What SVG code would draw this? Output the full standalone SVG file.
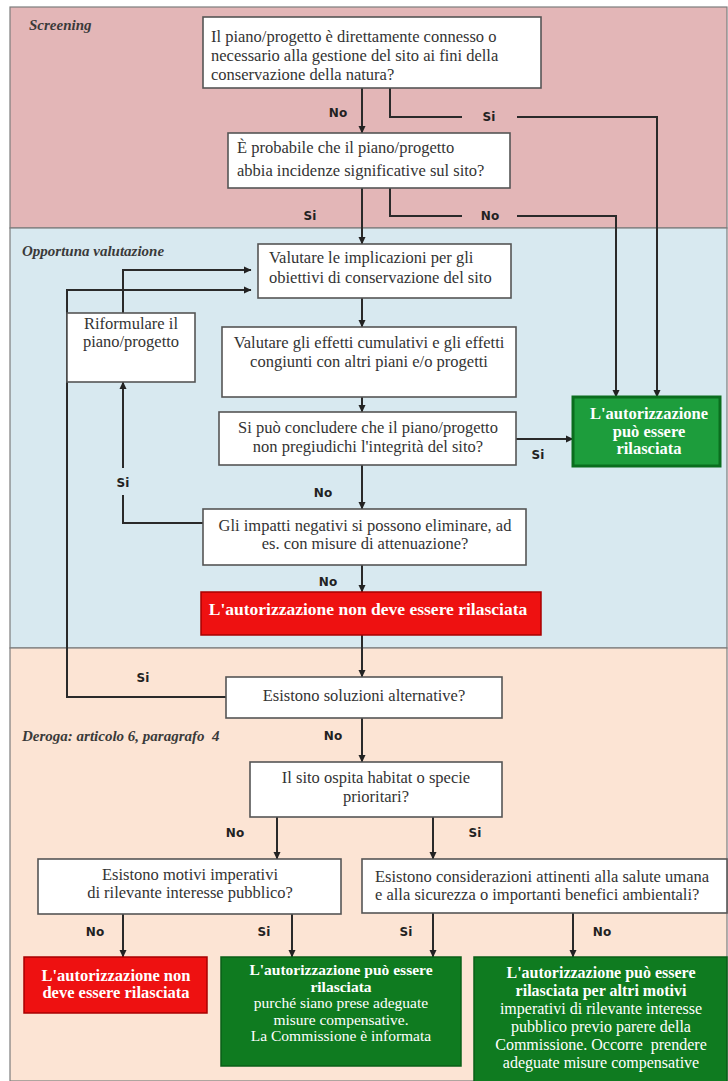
<svg xmlns="http://www.w3.org/2000/svg" width="728" height="1081" viewBox="0 0 728 1081">
<defs>
<marker id="ah" markerWidth="8" markerHeight="8" refX="7" refY="4" orient="auto" markerUnits="userSpaceOnUse">
<path d="M0,0.5 L7.5,4 L0,7.5 z" fill="#222"/>
</marker>
<style>
.band{stroke:#7c7c7c;stroke-width:1.2}
.box{fill:#fff;stroke:#555;stroke-width:1.6}
.t{font-family:"Liberation Serif","Times New Roman",serif;font-size:16.5px;fill:#333}
.c{text-anchor:middle}
.w{font-family:"Liberation Serif","Times New Roman",serif;font-size:16px;fill:#fff;font-weight:bold;text-anchor:middle;white-space:pre}
.wn{font-weight:normal}
.lbl{font-family:"DejaVu Sans",sans-serif;font-size:12px;font-weight:bold;fill:#222;text-anchor:middle}
.hd{font-family:"Liberation Serif","Times New Roman",serif;font-size:15px;font-style:italic;font-weight:bold;fill:#3a3a3a;white-space:pre}
.cn{fill:none;stroke:#2a2a2a;stroke-width:2}
.green1{fill:#1d9d3c;stroke:#0a6e1e;stroke-width:3}
.green2{fill:#0f7b20;stroke:#0a5f17;stroke-width:1.5}
.red{fill:#ee1111;stroke:#a80000;stroke-width:1.5}
</style>
</defs>
<g id="bands">
<rect class="band" x="10" y="7" width="717" height="221" fill="#e3b6b7"/>
<rect class="band" x="10" y="228" width="717" height="420" fill="#d8e9f0"/>
<rect class="band" x="10" y="648" width="717" height="433" fill="#fce4d4"/>
<text class="hd" x="29" y="30">Screening</text>
<text class="hd" x="22" y="256">Opportuna valutazione</text>
<text class="hd" x="22" y="741">Deroga: articolo 6, paragrafo  4</text>
</g>
<g id="connectors">
<path class="cn" d="M362,88 V133" marker-end="url(#ah)"/>
<path class="cn" d="M390,88 V117 H462"/>
<path class="cn" d="M517,117 H657 V397" marker-end="url(#ah)"/>
<path class="cn" d="M390,188 V216 H462"/>
<path class="cn" d="M517,216 H616 V397" marker-end="url(#ah)"/>
<path class="cn" d="M362,188 V244" marker-end="url(#ah)"/>
<path class="cn" d="M123,313 V270 H251" marker-end="url(#ah)"/>
<path class="cn" d="M226,697 H67 V290 H251" marker-end="url(#ah)"/>
<path class="cn" d="M362,298 V327" marker-end="url(#ah)"/>
<path class="cn" d="M362,397 V412" marker-end="url(#ah)"/>
<path class="cn" d="M516,439 H573" marker-end="url(#ah)"/>
<path class="cn" d="M362,465 V509" marker-end="url(#ah)"/>
<path class="cn" d="M203,523 H123 V495"/>
<path class="cn" d="M123,468 V382" marker-end="url(#ah)"/>
<path class="cn" d="M362,565 V592" marker-end="url(#ah)"/>
<path class="cn" d="M362,635 V677" marker-end="url(#ah)"/>
<path class="cn" d="M362,718 V762" marker-end="url(#ah)"/>
<path class="cn" d="M277,817 V859" marker-end="url(#ah)"/>
<path class="cn" d="M433,817 V859" marker-end="url(#ah)"/>
<path class="cn" d="M123,914 V957" marker-end="url(#ah)"/>
<path class="cn" d="M292,914 V957" marker-end="url(#ah)"/>
<path class="cn" d="M433,913 V957" marker-end="url(#ah)"/>
<path class="cn" d="M573,913 V957" marker-end="url(#ah)"/>
<text class="lbl" x="338" y="117">No</text>
<text class="lbl" x="489" y="121">Si</text>
<text class="lbl" x="490" y="220">No</text>
<text class="lbl" x="310" y="220">Si</text>
<text class="lbl" x="538" y="459">Si</text>
<text class="lbl" x="123" y="487">Si</text>
<text class="lbl" x="323" y="497">No</text>
<text class="lbl" x="328" y="586">No</text>
<text class="lbl" x="143" y="682">Si</text>
<text class="lbl" x="333" y="740">No</text>
<text class="lbl" x="235" y="837">No</text>
<text class="lbl" x="475" y="837">Si</text>
<text class="lbl" x="95" y="936">No</text>
<text class="lbl" x="264" y="936">Si</text>
<text class="lbl" x="406" y="936">Si</text>
<text class="lbl" x="602" y="936">No</text>
</g>
<g id="q1">
<rect class="box" x="203" y="17" width="338" height="71"/>
<text class="t" x="211" y="42">Il piano/progetto è direttamente connesso o</text>
<text class="t" x="211" y="61">necessario alla gestione del sito ai fini della</text>
<text class="t" x="211" y="80">conservazione della natura?</text>
</g>
<g id="q2">
<rect class="box" x="228" y="133" width="282" height="55"/>
<text class="t" x="237" y="153">È probabile che il piano/progetto</text>
<text class="t" x="237" y="176">abbia incidenze significative sul sito?</text>
</g>
<g id="q3">
<rect class="box" x="258" y="244" width="253" height="54"/>
<text class="t" x="269" y="263">Valutare le implicazioni per gli</text>
<text class="t" x="269" y="283">obiettivi di conservazione del sito</text>
</g>
<g id="riformulare">
<rect class="box" x="67" y="313" width="128" height="69"/>
<text class="t c" x="131" y="329">Riformulare il</text>
<text class="t c" x="131" y="347">piano/progetto</text>
</g>
<g id="q4">
<rect class="box" x="222" y="327" width="294" height="70"/>
<text class="t c" x="369" y="348">Valutare gli effetti cumulativi e gli effetti</text>
<text class="t c" x="369" y="367">congiunti con altri piani e/o progetti</text>
</g>
<g id="q5">
<rect class="box" x="219" y="412" width="297" height="53"/>
<text class="t c" x="368" y="433">Si può concludere che il piano/progetto</text>
<text class="t c" x="368" y="452">non pregiudichi l'integrità del sito?</text>
</g>
<g id="ok1">
<rect class="green1" x="573" y="397" width="147" height="69"/>
<text class="w" x="649" y="419" style="font-size:16.5px">L'autorizzazione</text>
<text class="w" x="649" y="437" style="font-size:16.5px">può essere</text>
<text class="w" x="649" y="454" style="font-size:16.5px">rilasciata</text>
</g>
<g id="q6">
<rect class="box" x="203" y="509" width="323" height="56"/>
<text class="t c" x="365" y="531">Gli impatti negativi si possono eliminare, ad</text>
<text class="t c" x="365" y="549">es. con misure di attenuazione?</text>
</g>
<g id="no1">
<rect class="red" x="201" y="592" width="340" height="43"/>
<text class="w" x="368" y="615" style="font-size:17.5px">L'autorizzazione non deve essere rilasciata</text>
</g>
<g id="q7">
<rect class="box" x="226" y="677" width="276" height="41"/>
<text class="t c" x="364" y="701">Esistono soluzioni alternative?</text>
</g>
<g id="q8">
<rect class="box" x="250" y="762" width="252" height="55"/>
<text class="t c" x="376" y="783">Il sito ospita habitat o specie</text>
<text class="t c" x="376" y="802">prioritari?</text>
</g>
<g id="q9">
<rect class="box" x="38" y="859" width="303" height="55"/>
<text class="t c" x="190" y="880">Esistono motivi imperativi</text>
<text class="t c" x="190" y="898">di rilevante interesse pubblico?</text>
</g>
<g id="q10">
<rect class="box" x="362" y="859" width="365" height="54"/>
<text class="t" x="375" y="882">Esistono considerazioni attinenti alla salute umana</text>
<text class="t" x="375" y="900">e alla sicurezza o importanti benefici ambientali?</text>
</g>
<g id="no2">
<rect class="red" x="24" y="957" width="183" height="56"/>
<text class="w" x="116" y="981" style="font-size:16.5px">L'autorizzazione non</text>
<text class="w" x="116" y="998" style="font-size:16.5px">deve essere rilasciata</text>
</g>
<g id="ok2">
<rect class="green2" x="221" y="957" width="240" height="109"/>
<text class="w" x="341" y="975" style="font-size:15.5px">L'autorizzazione può essere</text>
<text class="w" x="341" y="991.5" style="font-size:15.5px">rilasciata</text>
<text class="w wn" x="341" y="1008" style="font-size:15.5px">purché siano prese adeguate</text>
<text class="w wn" x="341" y="1024.5" style="font-size:15.5px">misure compensative.</text>
<text class="w wn" x="341" y="1041" style="font-size:15.5px">La Commissione è informata</text>
</g>
<g id="ok3">
<rect class="green2" x="474" y="957" width="253" height="126"/>
<text class="w" x="601" y="978">L'autorizzazione può essere</text>
<text class="w" x="601" y="996">rilasciata per altri motivi</text>
<text class="w wn" x="601" y="1014">imperativi di rilevante interesse</text>
<text class="w wn" x="601" y="1032">pubblico previo parere della</text>
<text class="w wn" x="601" y="1050">Commissione. Occorre  prendere</text>
<text class="w wn" x="601" y="1068">adeguate misure compensative</text>
</g>
</svg>
